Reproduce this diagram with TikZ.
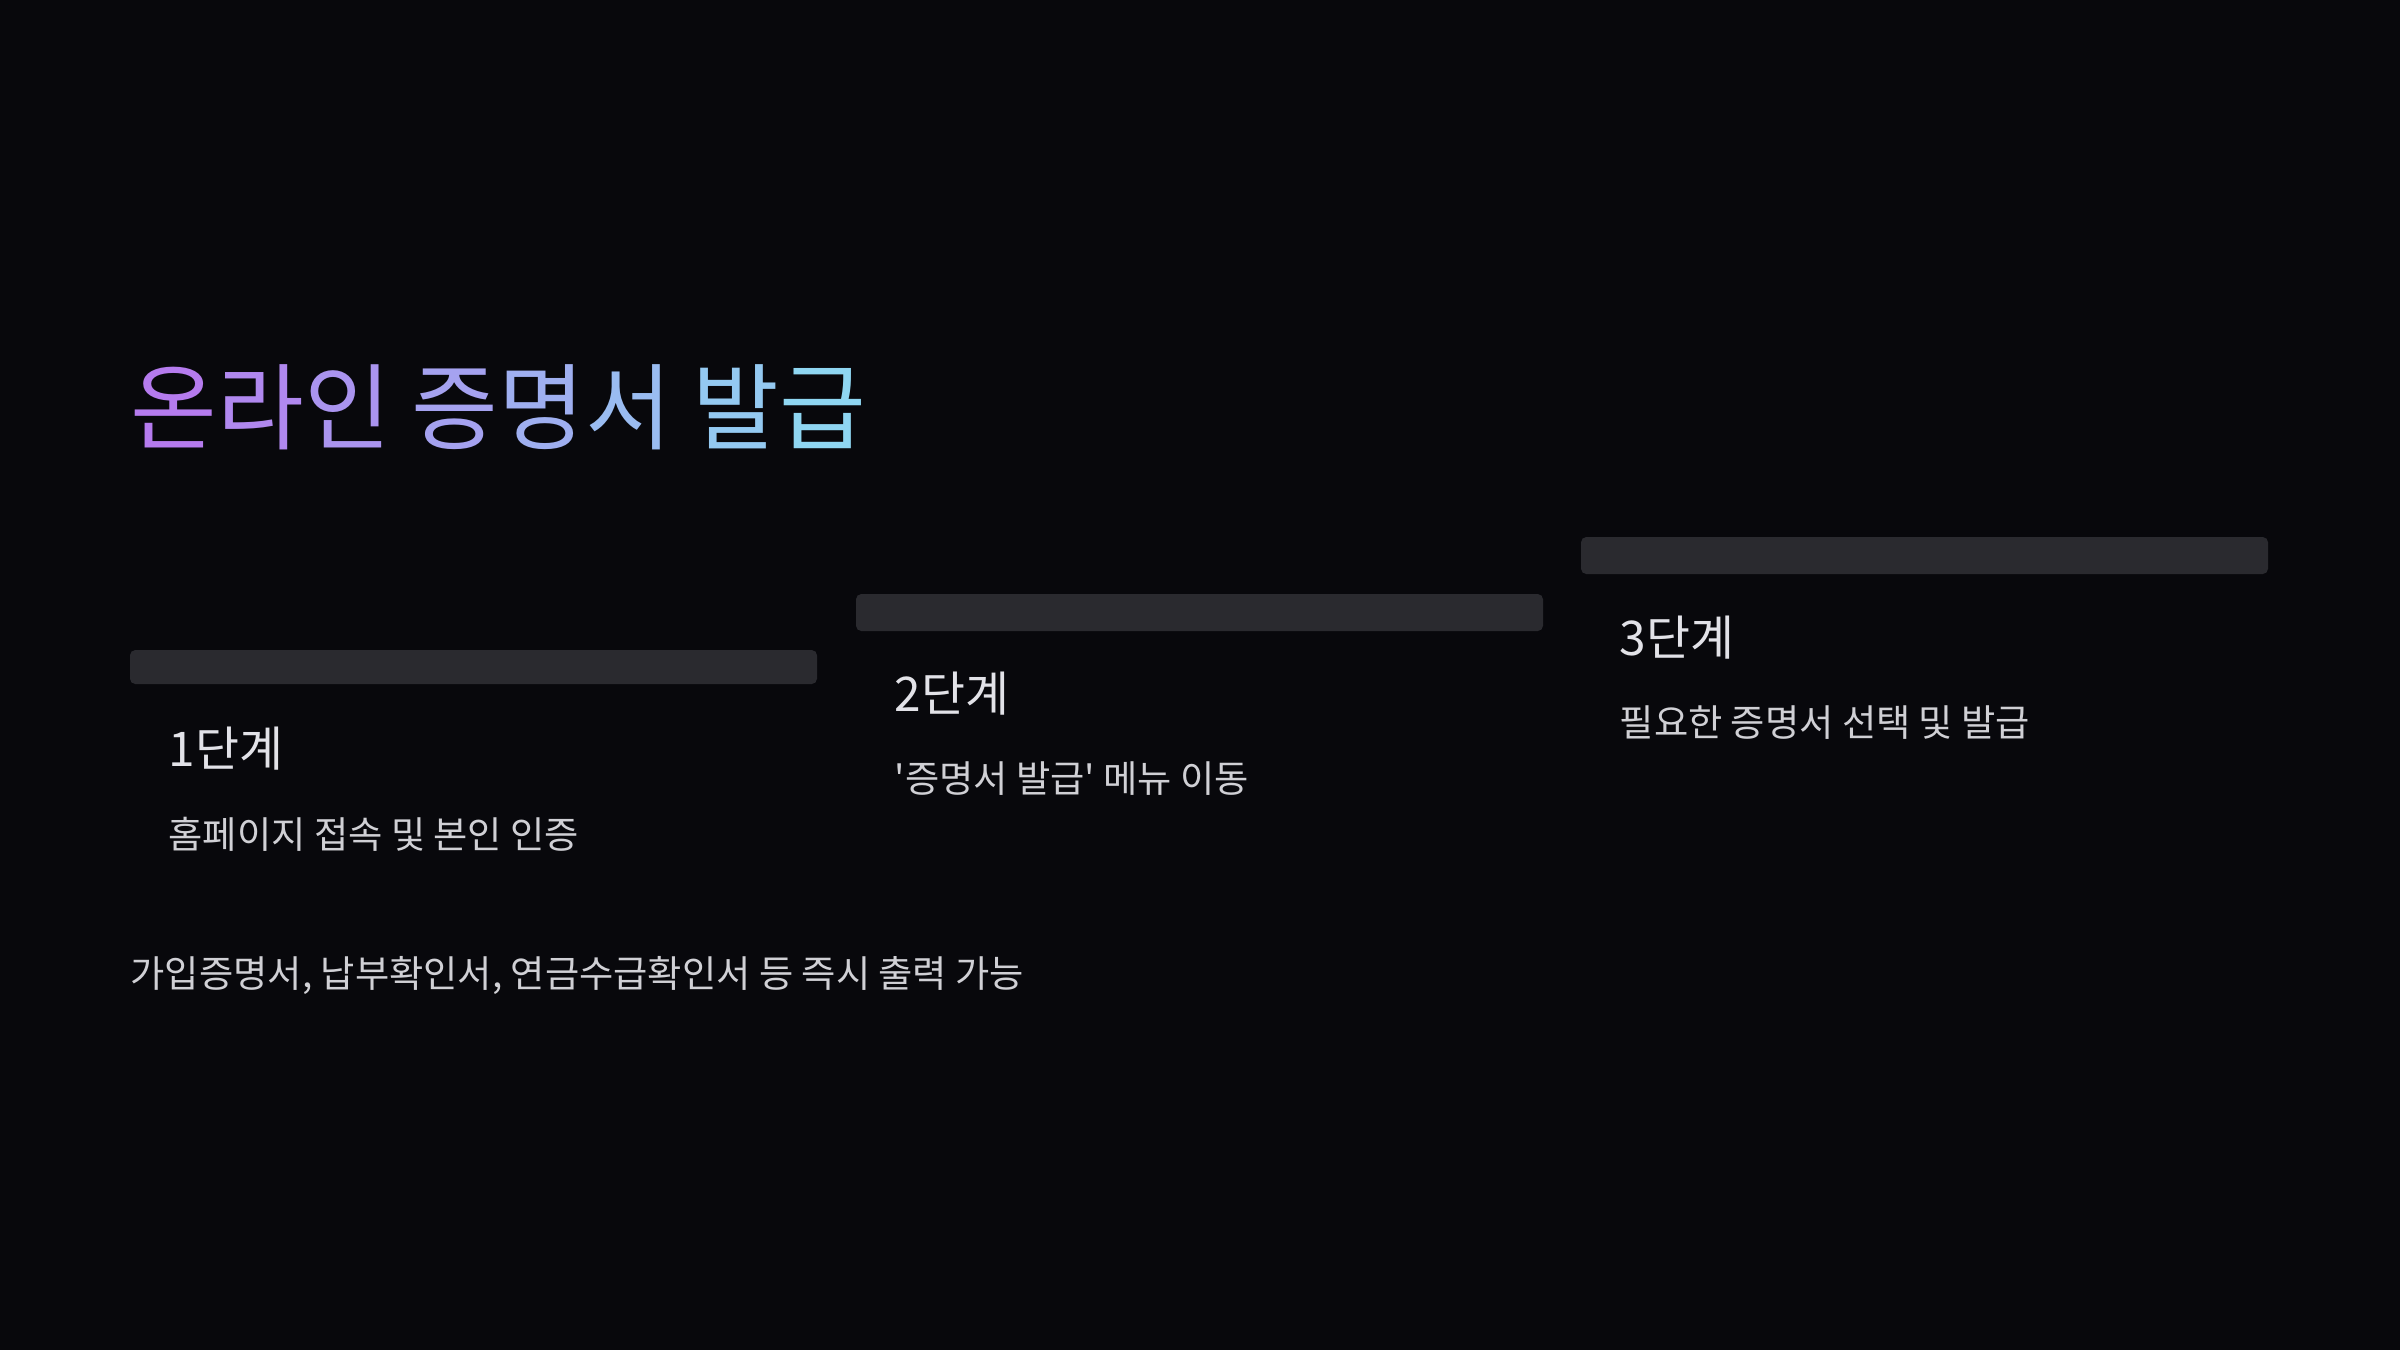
\documentclass[tikz,border=0pt]{standalone}
\usepackage{fontspec}
\setmainfont{Noto Sans CJK KR}
\newfontfamily\plainkr{Noto Sans CJK KR}
\usetikzlibrary{positioning}
\definecolor{bgdark}{HTML}{08080C}
\definecolor{bargray}{HTML}{2A2A2F}
\definecolor{txtlight}{HTML}{E2E2E8}
\definecolor{gradA}{HTML}{B57BEE}
\definecolor{gradB}{HTML}{8FD6F2}
\tikzset{
  stepbar/.style={fill=bargray, rounded corners=1.5pt},
  steptitle/.style={anchor=base west, inner sep=0, text=txtlight, font=\plainkr\fontsize{13.6}{16}\selectfont},
  stepdesc/.style={anchor=base west, inner sep=0, text=txtlight!92!black, font=\plainkr\fontsize{10.6}{13}\selectfont}
}
\newcommand{\gch}[2]{\textcolor{gradB!#1!gradA}{#2}}
\begin{document}
\begin{tikzpicture}
\fill[bgdark] (0,0) rectangle (24,-13.5);
\useasboundingbox (0,0) rectangle (24,-13.5);

% title
\node (title) [anchor=base west, inner sep=0, font=\plainkr\fontsize{26.8}{32}\selectfont] at (1.30,-4.42)
  {\gch{0}{온}\gch{14}{라}\gch{28}{인} \gch{43}{증}\gch{57}{명}\gch{71}{서} \gch{86}{발}\gch{100}{급}};

% steps
\fill[stepbar] (1.30,-6.50) rectangle (8.17,-6.84);
\node (stepone) [steptitle] at (1.68,-7.66) {1단계};
\node (descone) [stepdesc] at (1.68,-8.48) {홈페이지 접속 및 본인 인증};

\fill[stepbar] (8.56,-5.94) rectangle (15.43,-6.31);
\node (steptwo) [steptitle] at (8.94,-7.11) {2단계};
\node (desctwo) [stepdesc] at (8.94,-7.92) {'증명서 발급' 메뉴 이동};

\fill[stepbar] (15.81,-5.37) rectangle (22.68,-5.74);
\node (stepthree) [steptitle] at (16.19,-6.55) {3단계};
\node (descthree) [stepdesc] at (16.19,-7.36) {필요한 증명서 선택 및 발급};

% note
\node (note) [stepdesc] at (1.30,-9.87) {가입증명서, 납부확인서, 연금수급확인서 등 즉시 출력 가능};
\end{tikzpicture}
\end{document}
